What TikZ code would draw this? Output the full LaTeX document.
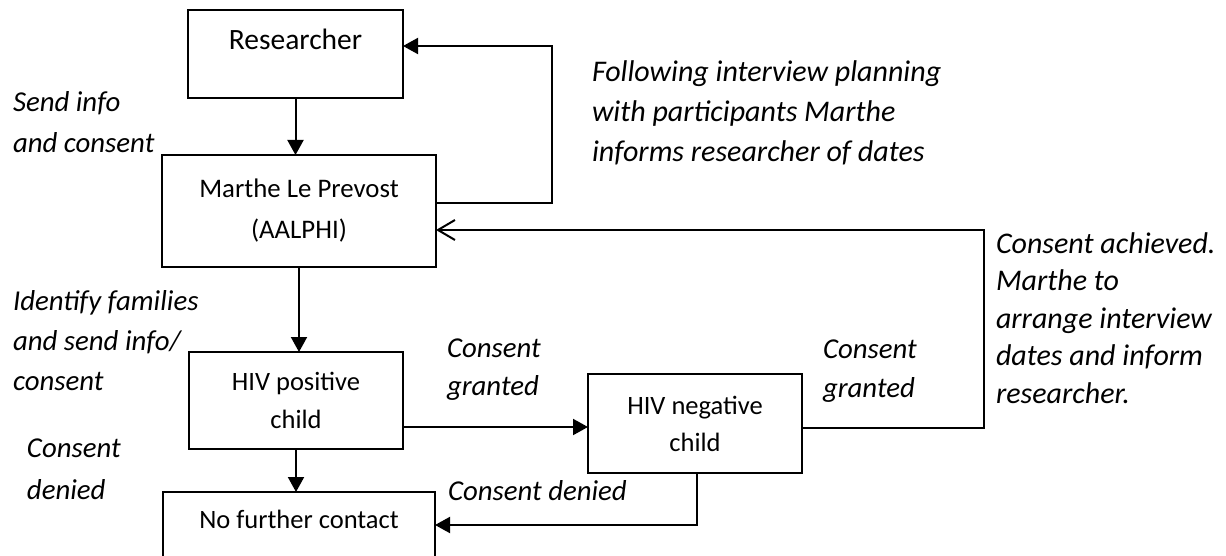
\documentclass[tikz,border=0pt]{standalone}
\usepackage{fontspec}
\setmainfont{Carlito}
\usetikzlibrary{arrows.meta}
\begin{document}
\begin{tikzpicture}[x=1pt,y=-1pt,
  line width=2pt,
  box/.style={draw, rectangle, inner sep=0pt, outer sep=0pt, align=center,
    font=\fontsize{26.5}{38}\selectfont},
  lbl/.style={inner sep=0pt, align=left, anchor=base west,
    font=\fontsize{28.8}{40}\selectfont\itshape},
  arr/.style={-{Triangle[length=15pt,width=16pt]}},
  openarr/.style={-{Straight Barb[length=17pt,width=20pt]}},
]
\useasboundingbox (0,0) rectangle (1226,556);
\clip (0,0) rectangle (1226,556);

% boxes
\node[box, minimum width=215pt, minimum height=88pt, text height=19pt, text depth=27pt,
  font=\fontsize{29.5}{38}\selectfont] (res) at (295.5,54) {Researcher};
\node[box, minimum width=274pt, minimum height=112pt,
  font=\fontsize{26.8}{41}\selectfont] (mar) at (299,211) {Marthe Le Prevost\\(AALPHI)};
\node[box, minimum width=214pt, minimum height=97pt] (pos) at (296,400.5) {HIV positive\\child};
\node[box, minimum width=214pt, minimum height=99pt,
  font=\fontsize{26.5}{37}\selectfont] (neg) at (695,423.5) {HIV negative\\child};
\node[box, minimum width=272pt, minimum height=108pt, text height=17pt, text depth=53pt]
  (nfc) at (299,546) {No further contact};

% connectors
\draw[arr] (res.south) -- (res.south |- mar.north);
\draw[arr] ([yshift=8pt]mar.east) -- ++(116,0) |- ([yshift=8pt]res.east);
\draw[arr] (mar.south) -- (mar.south |- pos.north);
\draw[arr] ([yshift=-26.5pt]pos.east) -- ([yshift=-26.5pt]pos.east -| neg.west);
\draw[arr] (pos.south) -- (pos.south |- nfc.north);
\draw[arr] ([xshift=2pt]neg.south) |- ([yshift=21pt]nfc.east);
\coordinate (rt) at (984,0);
\coordinate (nOut) at ([yshift=-4pt]neg.east);
\coordinate (mIn) at ([yshift=-19pt]mar.east);
\draw[openarr] (nOut) -- (nOut -| rt) |- (mIn);

% labels (anchored at the baseline of their last line)
\node[lbl, font=\fontsize{28.8}{41}\selectfont\itshape] (l1) at (12,153) {Send info\\and consent};
\node[lbl] (l2) at (12,390) {Identify families\\and send info/\\consent};
\node[lbl, font=\fontsize{28.8}{42}\selectfont\itshape] (l3) at (26,499) {Consent\\denied};
\node[lbl, font=\fontsize{30}{40}\selectfont\itshape] (l4) at (591,162)
  {Following interview planning\\with participants Marthe\\informs researcher of dates};
\node[lbl, font=\fontsize{28.8}{38}\selectfont\itshape] (l5) at (446,395) {Consent\\granted};
\node[lbl, font=\fontsize{28.8}{39}\selectfont\itshape] (l6) at (822,397) {Consent\\granted};
\node[lbl, font=\fontsize{30}{37.5}\selectfont\itshape] (l7) at (995,403)
  {Consent achieved.\\Marthe to\\arrange interview\\dates and inform\\researcher.};
\node[lbl] (l8) at (447,500) {Consent denied};
\end{tikzpicture}
\end{document}
